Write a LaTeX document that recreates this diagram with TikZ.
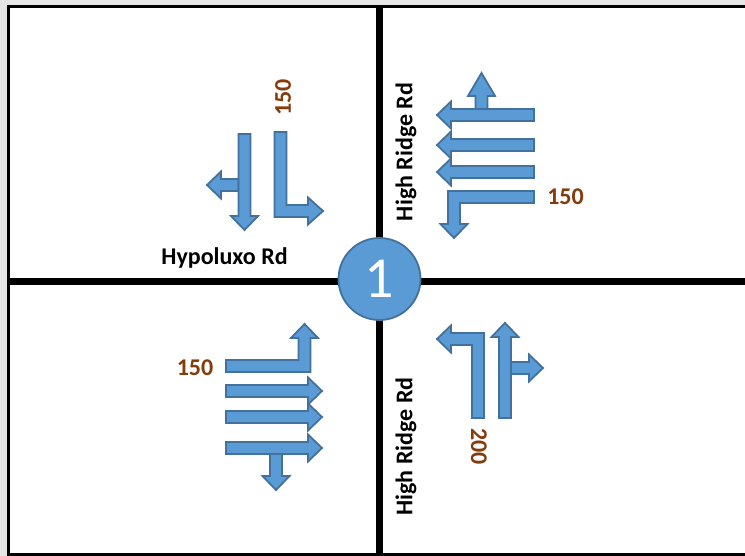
\documentclass[tikz,border=0pt]{standalone}
\usepackage{fontspec}
\setmainfont{Carlito}
\definecolor{lanefill}{HTML}{5B9BD5}
\definecolor{laneedge}{HTML}{41719C}
\definecolor{volbrown}{HTML}{843C0C}
\definecolor{pagegray}{HTML}{E6E6E6}
\begin{document}
\begin{tikzpicture}[
  x=1pt, y=-1pt,
  lane/.style={fill=lanefill, draw=laneedge, line width=1.8pt, line join=miter},
  road/.style={draw=black, line width=7pt},
  frame/.style={draw=black, line width=3pt},
  roadname/.style={font=\fontsize{24}{28}\selectfont\bfseries, inner sep=0pt},
  volume/.style={font=\fontsize{24}{28}\selectfont\bfseries, text=volbrown, inner sep=0pt},
  intnum/.style={circle, fill=lanefill, draw=laneedge, line width=1.8pt, minimum size=82pt,
                 inner sep=0pt, text=white, font=\fontsize{58}{60}\selectfont}
]
\useasboundingbox (0,0) rectangle (745,556);
\clip (0,0) rectangle (745,556);

% sheet and frame
\fill[pagegray] (0,0) rectangle (745,556);
\fill[white] (8.5,6.5) rectangle (760,554.5);
\draw[frame] (760,6.5) -- (8.5,6.5) -- (8.5,554.5) -- (760,554.5);

% the two roads
\draw[road] (379.5,6.5) -- (379.5,554.5);
\draw[road] (8.5,281.5) -- (760,281.5);

% intersection number
\node[intnum] (int1) at (379.5,279) {1};

% road names
\node[roadname] (hypoluxo) at (224.5,258) {Hypoluxo Rd};
\node[roadname, rotate=90] (ridgeN) at (406,152) {High Ridge Rd};
\node[roadname, rotate=90] (ridgeS) at (406,446.5) {High Ridge Rd};

% volumes
\node[volume, rotate=90] (volN) at (283,97.5) {150};
\node[volume] (volE) at (565.5,197) {150};
\node[volume] (volW) at (195,367.5) {150};
\node[volume, rotate=-90] (volS) at (479,446.5) {200};

% southbound: through + right, then left turn
\draw[lane] (238.5,179) -- (221,179) -- (221,171.5) -- (207,185) -- (221,198.5) -- (221,191) -- (238.5,191) -- cycle;
\draw[lane] (238.5,134) -- (250.5,134) -- (250.5,216) -- (258,216) -- (244.5,230) -- (231,216) -- (238.5,216) -- cycle;
\draw[lane] (274.5,132) -- (286.5,132) -- (286.5,205) -- (308,205) -- (308,197.5) -- (323,211) -- (308,224.5) -- (308,217) -- (274.5,217) -- cycle;

% westbound: left turn, three through, right turn
\draw[lane] (475.5,109) -- (475.5,96) -- (468,96) -- (481.5,73) -- (495,96) -- (487.5,96) -- (487.5,109) -- cycle;
\foreach \c in {115,145,172}
  \draw[lane] (534,\c-6) -- (451,\c-6) -- (451,\c-13.5) -- (437,\c) -- (451,\c+13.5) -- (451,\c+6) -- (534,\c+6) -- cycle;
\draw[lane] (534,191) -- (448,191) -- (448,224) -- (440.5,224) -- (454,238) -- (467.5,224) -- (460,224) -- (460,203) -- (534,203) -- cycle;

% eastbound: left turn, three through, right turn
\draw[lane] (226,360) -- (298.5,360) -- (298.5,338) -- (291,338) -- (304.5,324) -- (318,338) -- (310.5,338) -- (310.5,372) -- (226,372) -- cycle;
\draw[lane] (270,454) -- (270,476) -- (262.5,476) -- (276,490) -- (289.5,476) -- (282,476) -- (282,454) -- cycle;
\foreach \c in {391,417,448}
  \draw[lane] (226,\c-6) -- (308,\c-6) -- (308,\c-13.5) -- (322,\c) -- (308,\c+13.5) -- (308,\c+6) -- (226,\c+6) -- cycle;

% northbound: left turn, through + right
\draw[lane] (472,418) -- (484,418) -- (484,333) -- (451,333) -- (451,325.5) -- (437,339) -- (451,352.5) -- (451,345) -- (472,345) -- cycle;
\draw[lane] (511,362) -- (529,362) -- (529,354.5) -- (543,368) -- (529,381.5) -- (529,374) -- (511,374) -- cycle;
\draw[lane] (499,418) -- (499,337) -- (491.5,337) -- (505,323) -- (518.5,337) -- (511,337) -- (511,418) -- cycle;
\end{tikzpicture}
\end{document}
